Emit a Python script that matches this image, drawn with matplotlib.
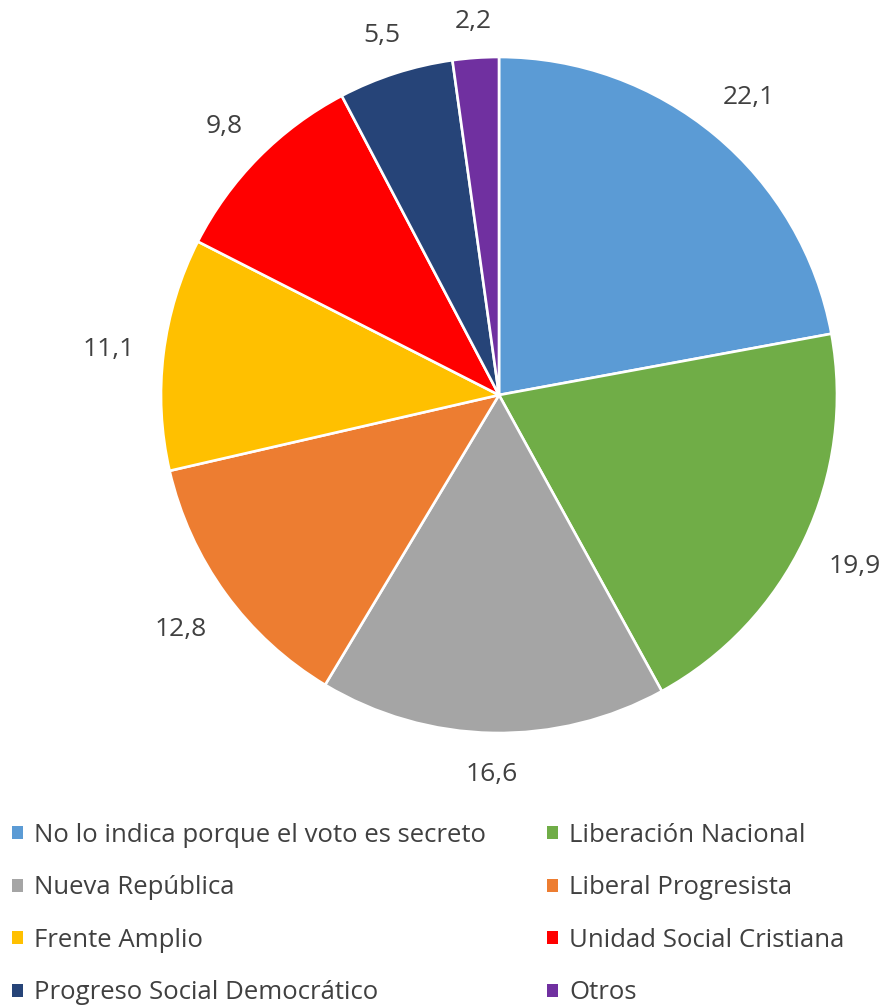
import numpy as np
import matplotlib.pyplot as plt
from matplotlib.patches import Patch

plt.rcParams['font.family'] = ['Open Sans', 'DejaVu Sans']

# datos de la encuesta
partidos = ["No lo indica porque el voto es secreto", "Liberación Nacional",
            "Nueva República", "Liberal Progresista", "Frente Amplio",
            "Unidad Social Cristiana", "Progreso Social Democrático", "Otros"]
valores = [22.1, 19.9, 16.6, 12.8, 11.1, 9.8, 5.5, 2.2]
colores = ["#5B9BD5", "#70AD47", "#A5A5A5", "#ED7D31", "#FFC000",
           "#FF0000", "#264478", "#7030A0"]
texto_color = "#404040"

fig = plt.figure(figsize=(8.86, 10.05), dpi=100)
ax = fig.add_axes([161 / 886, 1 - 733 / 1005, 676 / 886, 676 / 1005])

wedges, _ = ax.pie(valores, colors=colores, startangle=90, counterclock=False,
                   radius=1.0, wedgeprops=dict(edgecolor="white", linewidth=1.9))
ax.set_xlim(-1, 1)
ax.set_ylim(-1, 1)

# etiquetas fuera del pastel, estilo Excel
px = 338.0  # pixeles por unidad
renderer = fig.canvas.get_renderer()
for w, v in zip(wedges, valores):
    ang = np.deg2rad((w.theta1 + w.theta2) / 2)
    t = ax.text(0, 0, f"{v:.1f}".replace(".", ","), ha="center", va="center",
                fontsize=19, color=texto_color)
    bb = t.get_window_extent(renderer)
    proj = abs(np.cos(ang)) * bb.width / 2 + abs(np.sin(ang)) * 10
    r = 1 + (28 + proj) / px
    t.set_position((r * np.cos(ang), r * np.sin(ang) - 3 / px))

orden = [0, 2, 4, 6, 1, 3, 5, 7]
handles = [Patch(facecolor=colores[i], edgecolor="none") for i in orden]
fig.legend(handles, [partidos[i] for i in orden], ncol=2, frameon=False,
           loc="upper left", bbox_to_anchor=(-6 / 886, 1 - 805 / 1005),
           fontsize=18.5, labelcolor=texto_color, handlelength=0.42, handleheight=0.42,
           handletextpad=0.45, columnspacing=2.35, labelspacing=1.07, borderaxespad=0.3)

fig.savefig("out.png", dpi=100)
